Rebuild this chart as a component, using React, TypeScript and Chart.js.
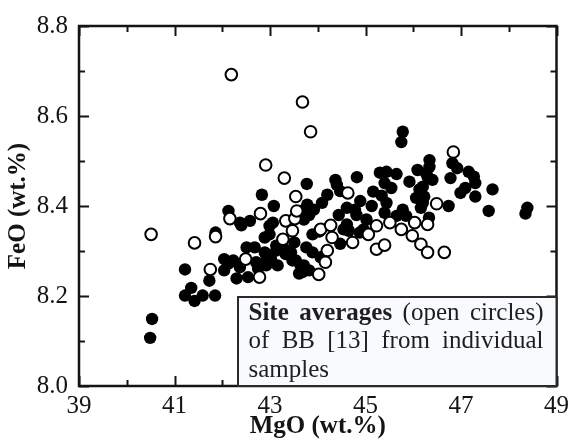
import React, { useEffect, useRef } from 'react';
import { Chart, registerables } from 'chart.js';

Chart.register(...registerables);

const xTickValues = [39, 41, 43, 45, 47, 49];
const yTickValues = [8.0, 8.2, 8.4, 8.6, 8.8];

// individual samples (filled circles)
const individualMgO = [
  40.53, 40.49, 41.22, 41.35, 41.22, 41.42, 41.59, 41.85, 41.73, 41.86,
  42.04, 42.04, 42.13, 42.30, 42.23, 42.54, 42.37, 42.13, 42.40, 42.37,
  42.58, 42.51, 42.68, 42.75, 42.71, 42.82, 42.89, 42.89, 42.92, 42.92,
  42.99, 43.02, 43.06, 43.08, 42.83, 43.13, 43.13, 43.30, 43.33, 43.44,
  43.47, 43.54, 43.51, 43.64, 43.71, 43.68, 43.71, 43.64, 43.82, 43.76,
  43.89, 43.89, 43.92, 43.77, 44.03, 44.06, 44.09, 44.20, 44.37, 44.40,
  44.47, 44.54, 44.61, 44.61, 44.65, 44.78, 44.82, 44.88, 44.89, 44.96,
  45.02, 45.13, 45.16, 45.30, 45.34, 45.40, 45.40, 45.44, 45.44, 45.54,
  45.65, 45.65, 45.75, 45.78, 45.78, 45.85, 45.92, 46.06, 46.09, 46.13,
  46.16, 46.20, 46.20, 46.23, 46.27, 46.30, 46.33, 46.34, 46.34, 46.40,
  46.74, 46.78, 46.82, 46.92, 46.99, 47.09, 47.16, 47.27, 47.30, 47.30,
  47.58, 47.66, 48.35, 48.39, 43.78, 42.99, 43.16, 43.61, 43.82, 44.47,
  44.44, 44.81,
];
const individualFeO = [
  8.149, 8.107, 8.259, 8.218, 8.201, 8.189, 8.201, 8.201, 8.234, 8.341,
  8.282, 8.257, 8.272, 8.239, 8.279, 8.242, 8.264, 8.389, 8.357, 8.363,
  8.367, 8.308, 8.308, 8.261, 8.275, 8.272, 8.330, 8.297, 8.293, 8.268,
  8.356, 8.282, 8.363, 8.400, 8.425, 8.312, 8.301, 8.304, 8.293, 8.297,
  8.279, 8.279, 8.319, 8.268, 8.268, 8.253, 8.370, 8.389, 8.380, 8.308,
  8.337, 8.297, 8.392, 8.449, 8.343, 8.286, 8.407, 8.425, 8.458, 8.447,
  8.316, 8.348, 8.396, 8.359, 8.345, 8.392, 8.464, 8.341, 8.411, 8.348,
  8.370, 8.400, 8.432, 8.474, 8.423, 8.451, 8.385, 8.476, 8.407, 8.440,
  8.471, 8.378, 8.542, 8.565, 8.392, 8.378, 8.454, 8.418, 8.480, 8.437,
  8.396, 8.443, 8.407, 8.421, 8.473, 8.465, 8.374, 8.487, 8.502, 8.458,
  8.400, 8.462, 8.495, 8.484, 8.429, 8.440, 8.476, 8.465, 8.451, 8.421,
  8.389, 8.437, 8.383, 8.396, 8.403, 8.337, 8.268, 8.250, 8.257, 8.433,
  8.380, 8.380,
];

// site averages (open circles)
const siteMgO = [
  42.19, 43.68, 43.85, 42.91, 43.30, 43.54, 46.84, 40.51, 41.42, 41.86,
  41.75, 42.49, 42.78, 42.16, 42.80, 43.27, 43.33, 43.47, 43.52, 43.56,
  44.02, 44.06, 44.27, 44.30, 44.20, 44.16, 44.73, 45.06, 45.23, 45.51,
  45.23, 45.40, 45.75, 46.03, 46.30, 45.98, 46.16, 46.30, 46.65, 44.63,
  46.49,
];
const siteFeO = [
  8.692, 8.631, 8.565, 8.491, 8.462, 8.421, 8.520, 8.337, 8.318, 8.332,
  8.259, 8.282, 8.242, 8.372, 8.383, 8.326, 8.367, 8.345, 8.372, 8.389,
  8.248, 8.348, 8.357, 8.330, 8.301, 8.275, 8.319, 8.337, 8.356, 8.363,
  8.304, 8.313, 8.348, 8.363, 8.359, 8.334, 8.315, 8.297, 8.297, 8.429,
  8.405,
];

const xTitle = 'MgO (wt.%)';
const yTitle = 'FeO (wt.%)';

type Word = { t: string; b?: boolean };
const legendLines: Word[][] = [
  [{ t: 'Site', b: true }, { t: 'averages', b: true }, { t: '(open' }, { t: 'circles)' }],
  [{ t: 'of' }, { t: 'BB' }, { t: '[13]' }, { t: 'from' }, { t: 'individual' }],
  [{ t: 'samples' }],
];

const FONT = "'Liberation Serif', 'Times New Roman', Times, serif";
const INK = '#141414';
const FS = 25;

Chart.defaults.font.family = FONT;
Chart.defaults.font.size = FS;
Chart.defaults.color = INK;

const framePlugin = {
  id: 'frameTicksLegend',
  afterDatasetsDraw(chart: any) {
    const { ctx, chartArea: a, scales } = chart;
    const x = scales.x;
    const y = scales.y;
    ctx.save();
    ctx.strokeStyle = INK;
    ctx.lineWidth = 2;
    ctx.beginPath();
    for (let v = xTickValues[0]; v <= xTickValues[xTickValues.length - 1]; v += 1) {
      const px = Math.round(x.getPixelForValue(v)) + 0.5;
      const len = (v - xTickValues[0]) % 2 === 0 ? 10 : 6;
      ctx.moveTo(px, a.bottom);
      ctx.lineTo(px, a.bottom - len);
      ctx.moveTo(px, a.top);
      ctx.lineTo(px, a.top + len);
    }
    for (let i = 0; i <= 8; i++) {
      const v = yTickValues[0] + i * 0.1;
      const py = Math.round(y.getPixelForValue(v)) + 0.5;
      const len = i % 2 === 0 ? 10 : 6;
      ctx.moveTo(a.left, py);
      ctx.lineTo(a.left + len, py);
      ctx.moveTo(a.right, py);
      ctx.lineTo(a.right - len, py);
    }
    ctx.stroke();
    ctx.lineWidth = 2.5;
    ctx.strokeRect(a.left, a.top, a.right - a.left, a.bottom - a.top);

    // annotation box
    const bw = 318.5;
    const bh = 89;
    const bx = a.right - bw;
    const by = a.bottom - bh;
    ctx.fillStyle = '#f8fafd';
    ctx.fillRect(bx, by, bw, bh);
    ctx.strokeStyle = '#2a2a2a';
    ctx.lineWidth = 2;
    ctx.strokeRect(bx, by, bw, bh);

    const tl = bx + 10.5;
    const tr = bx + 305.5;
    const base = [by + 22.5, by + 51, by + 79.5];
    ctx.fillStyle = '#1e1e1e';
    ctx.textBaseline = 'alphabetic';
    ctx.textAlign = 'left';
    const fontFor = (w: Word) => `${w.b ? 'bold ' : ''}${FS}px ${FONT}`;
    legendLines.forEach((line, li) => {
      const widths = line.map((w) => {
        ctx.font = fontFor(w);
        return ctx.measureText(w.t).width;
      });
      const total = widths.reduce((s, v) => s + v, 0);
      const last = li === legendLines.length - 1;
      ctx.font = `${FS}px ${FONT}`;
      const normalSpace = ctx.measureText(' ').width;
      const gap = last || line.length < 2 ? normalSpace : (tr - tl - total) / (line.length - 1);
      let cx = tl;
      line.forEach((w, wi) => {
        ctx.font = fontFor(w);
        ctx.fillText(w.t, cx, base[li]);
        cx += widths[wi] + gap;
      });
    });
    ctx.restore();
  },
};

export default function App() {
  const ref = useRef<HTMLCanvasElement | null>(null);
  useEffect(() => {
    document.body.style.margin = '0';
    const canvas = ref.current;
    if (!canvas) return;
    const tickFont = { family: FONT, size: FS, weight: 'normal' as const };
    const titleFont = { family: FONT, size: FS, weight: 'bold' as const, lineHeight: 1.1 };
    const chart = new Chart(canvas, {
      type: 'scatter',
      data: {
        datasets: [
          {
            label: 'Site averages',
            data: siteMgO.map((v, i) => ({ x: v, y: siteFeO[i] })),
            backgroundColor: '#ffffff',
            borderColor: '#000000',
            borderWidth: 2,
            pointRadius: 5.8,
            order: 0,
          },
          {
            label: 'Individual samples',
            data: individualMgO.map((v, i) => ({ x: v, y: individualFeO[i] })),
            backgroundColor: '#000000',
            borderColor: '#000000',
            borderWidth: 0,
            pointRadius: 6.2,
            order: 1,
          },
        ],
      },
      options: {
        animation: false,
        responsive: false,
        devicePixelRatio: 1,
        layout: { padding: { left: 0, right: 12, top: 21, bottom: 0 } },
        plugins: { legend: { display: false }, tooltip: { enabled: false } },
        scales: {
          x: {
            type: 'linear',
            min: 39,
            max: 49,
            afterFit: (s: any) => { s.height = 54; },
            afterBuildTicks: (s: any) => { s.ticks = xTickValues.map((v) => ({ value: v })); },
            grid: { display: false, drawTicks: false },
            border: { display: false },
            ticks: {
              padding: 5,
              color: INK,
              font: tickFont,
              callback: (v: any) => String(v),
            },
            title: {
              display: true,
              text: xTitle,
              color: INK,
              font: titleFont,
              padding: { top: 0, bottom: 0 },
            },
          },
          y: {
            type: 'linear',
            min: 8.0,
            max: 8.8,
            afterFit: (s: any) => { s.width = 79; },
            afterBuildTicks: (s: any) => { s.ticks = yTickValues.map((v) => ({ value: v })); },
            grid: { display: false, drawTicks: false },
            border: { display: false },
            ticks: {
              padding: 11,
              color: INK,
              font: tickFont,
              callback: (v: any) => Number(v).toFixed(1),
            },
            title: {
              display: true,
              text: yTitle,
              color: INK,
              font: titleFont,
              padding: { top: 5, bottom: 0 },
            },
          },
        },
      },
      plugins: [framePlugin],
    });
    return () => chart.destroy();
  }, []);
  return (
    <div style={{ width: 574, height: 440, background: '#fff' }}>
      <canvas ref={ref} width={574} height={440} />
    </div>
  );
}
